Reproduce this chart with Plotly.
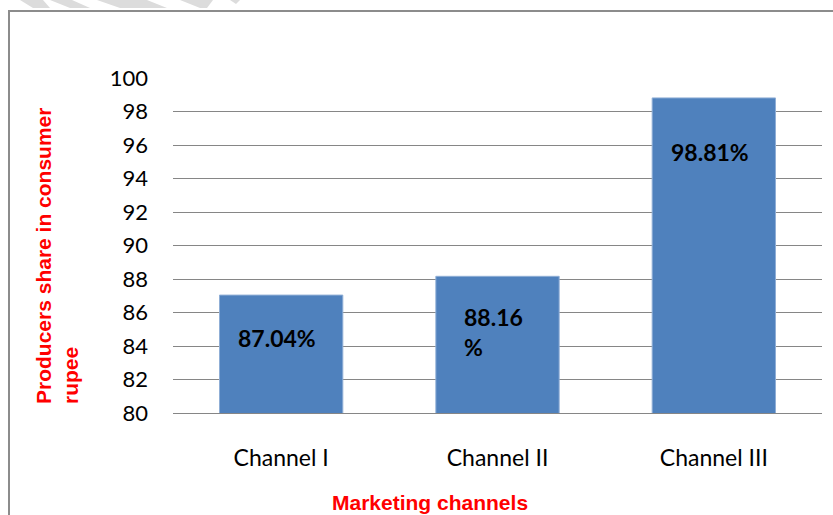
import plotly.graph_objects as go

categories = ["Channel I", "Channel II", "Channel III"]
values = [87.04, 88.16, 98.81]
label_texts = ["87.04%", "88.16<br>%", "98.81%"]
label_shifts = [-43, -56, -54]
y_ticks = [80, 82, 84, 86, 88, 90, 92, 94, 96, 98, 100]

W, H = 833, 515
L, R, T, B = 173, 11, 78, 102
pw, ph = W - L - R, H - T - B

def px(xp):
    return (xp - L) / pw

def py(yp):
    return (H - B - yp) / ph

fig = go.Figure()
fig.add_trace(go.Bar(
    x=categories, y=values,
    marker=dict(color="#4F81BD", line=dict(color="#8FAED6", width=1)),
    width=0.57,
    hoverinfo="skip",
))

annotations = []
for c, v, t, s in zip(categories, values, label_texts, label_shifts):
    annotations.append(dict(
        x=c, y=v, xref="x", yref="y", text=t, showarrow=False,
        yshift=s, xshift=-4, xanchor="center", yanchor="middle", align="left",
        font=dict(family="Lato, Arial", size=23, color="black", weight="bold"),
    ))

annotations.append(dict(
    x=px(57), y=py(256), xref="paper", yref="paper",
    text="Producers share in consumer<br>rupee", textangle=-90,
    showarrow=False, align="left", xanchor="center", yanchor="middle",
    font=dict(family="Liberation Sans, Arial", size=21, color="#FF0000", weight="bold"),
))
annotations.append(dict(
    x=px(430), y=py(502), xref="paper", yref="paper",
    text="Marketing channels", showarrow=False,
    xanchor="center", yanchor="middle",
    font=dict(family="Liberation Sans, Arial", size=21, color="#FF0000", weight="bold"),
))

shapes = [
    dict(type="rect", xref="paper", yref="paper",
         x0=px(9), x1=px(900), y0=py(600), y1=py(11),
         line=dict(color="#8C8C8C", width=2), layer="below"),
]
# faint watermark fragments at the top edge
wm = [
    [(20, 0), (43, 0), (50, 8), (33, 8)],
    [(50, 0), (72, 0), (90, 8), (70, 8)],
    [(97, 0), (147, 0), (167, 8), (120, 8)],
    [(180, 0), (213, 0), (207, 8), (200, 8)],
    [(230, 0), (240, 0), (236, 4)],
]
for poly in wm:
    path = "M " + " L ".join(f"{px(a)},{py(b)}" for a, b in poly) + " Z"
    shapes.append(dict(type="path", xref="paper", yref="paper", path=path,
                       fillcolor="#DCDCDC", line=dict(width=0), layer="below"))

fig.update_layout(
    width=W, height=H,
    margin=dict(l=L, r=R, t=T, b=B),
    paper_bgcolor="white", plot_bgcolor="white",
    showlegend=False,
    bargap=0.43,
    annotations=annotations,
    shapes=shapes,
    font=dict(family="Lato, Arial", color="black"),
    xaxis=dict(
        showline=True, linecolor="#868686", linewidth=1,
        showgrid=False, ticks="", tickfont=dict(size=23, family="Lato, Arial"),
        ticklabelstandoff=24, fixedrange=True,
    ),
    yaxis=dict(
        range=[80, 100], tickvals=y_ticks,
        showgrid=True, gridcolor="#868686", gridwidth=1,
        showline=False, zeroline=False, ticks="",
        tickfont=dict(size=22, family="Lato, Arial"),
        ticklabelstandoff=24, fixedrange=True,
    ),
)

fig.write_html(
    "out.html",
    config={"displayModeBar": False},
    post_script="document.body.style.margin='0';document.body.style.overflow='hidden';",
)
